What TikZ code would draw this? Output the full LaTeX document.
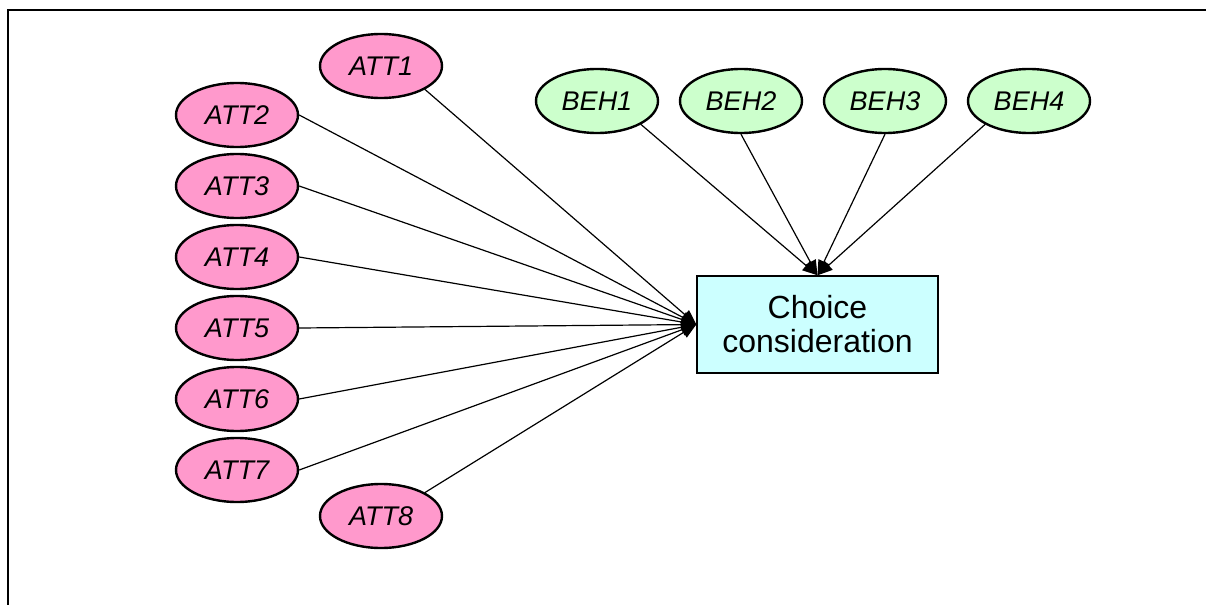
\documentclass[tikz,border=0pt]{standalone}
\usepackage{fontspec}
\setmainfont{Liberation Sans}
\usetikzlibrary{positioning, arrows.meta, shapes.geometric}

\begin{document}
\begin{tikzpicture}[
        x=0.5pt, y=-0.5pt,
        >={Triangle[length=7.5pt, width=6pt]},
        on grid,
        factor/.style={draw, ellipse, line width=1.2pt, minimum width=61pt,
            minimum height=32pt, inner sep=0pt, font=\itshape\fontsize{13.5}{15}\selectfont},
        att/.style={factor, fill=attpink},
        beh/.style={factor, fill=behgreen},
        outcome/.style={draw, line width=0.7pt, fill=boxcyan, minimum width=120.5pt,
            minimum height=48.5pt, align=center, font=\fontsize{16}{17}\selectfont},
        link/.style={->, line width=0.6pt}
    ]
        \definecolor{attpink}{HTML}{FF99CC}
        \definecolor{behgreen}{HTML}{CCFFCC}
        \definecolor{boxcyan}{HTML}{CCFFFF}
        \useasboundingbox (0,0) rectangle (1206,605);
        \draw[line width=1pt] (1206,10) -- (8,10) -- (8,605);

        % attitude items
        \node[att] (att1) at (381,66) {ATT1};
        \node[att] (att2) at (237,115) {ATT2};
        \node[att, below=35.5pt of att2] (att3) {ATT3};
        \node[att, below=35.5pt of att3] (att4) {ATT4};
        \node[att, below=35.5pt of att4] (att5) {ATT5};
        \node[att, below=35.5pt of att5] (att6) {ATT6};
        \node[att, below=35.5pt of att6] (att7) {ATT7};
        \node[att] (att8) at (381,516) {ATT8};

        % behaviour items
        \node[beh] (beh1) at (597,101) {BEH1};
        \node[beh, right=72pt of beh1] (beh2) {BEH2};
        \node[beh, right=72pt of beh2] (beh3) {BEH3};
        \node[beh, right=72pt of beh3] (beh4) {BEH4};

        \node[outcome] (choice) at (817.5,324.5) {Choice\\consideration};

        \draw[link] (att1.south east) -- (choice.west);
        \foreach \i in {2,...,7}
            \draw[link] (att\i.east) -- (choice.west);
        \draw[link] (att8.north east) -- (choice.west);
        \draw[link] (beh1.south east) -- (choice.north);
        \draw[link] (beh2.south) -- (choice.north);
        \draw[link] (beh3.south) -- (choice.north);
        \draw[link] (beh4.south west) -- (choice.north);
\end{tikzpicture}
\end{document}
